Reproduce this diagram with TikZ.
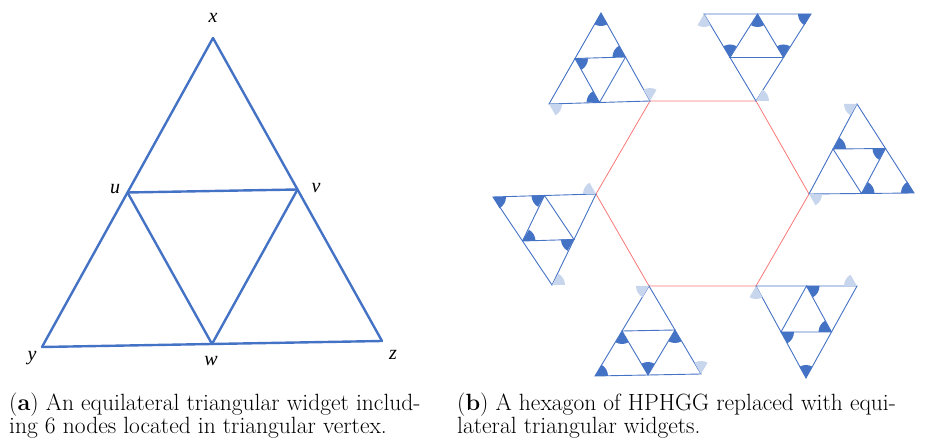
\documentclass[tikz,border=0pt]{standalone}
\usepackage{fontspec}
\newfontfamily\labelfont{Liberation Serif}
\usetikzlibrary{calc}
\definecolor{widgetblue}{RGB}{68,114,196}
\definecolor{hexred}{RGB}{250,120,120}

\tikzset{
  bigedge/.style={widgetblue, line width=2.4pt, line cap=round},
  smalledge/.style={widgetblue, line width=0.9pt},
  hexedge/.style={hexred, line width=0.8pt},
  darkmark/.style={fill=widgetblue},
  lightmark/.style={fill=widgetblue!30},
  vlabel/.style={font=\fontsize{20}{20}\selectfont\labelfont\itshape, inner sep=0pt},
  caption/.style={font=\fontsize{23.5}{22}\selectfont, align=left, anchor=north west, inner sep=0pt}
}

% triangular widget: name, three corners
\newcommand{\widget}[4]{%
  \coordinate (#1-1) at #2;
  \coordinate (#1-2) at #3;
  \coordinate (#1-3) at #4;
  \coordinate (#1-12) at ($(#1-1)!0.5!(#1-2)$);
  \coordinate (#1-13) at ($(#1-1)!0.5!(#1-3)$);
  \coordinate (#1-23) at ($(#1-2)!0.5!(#1-3)$);
  \draw[smalledge] (#1-1) -- (#1-2) -- (#1-3) -- cycle;
  \draw[smalledge] (#1-12) -- (#1-13) -- (#1-23) -- cycle;
}
% angle mark: style, vertex, from, to
\newcommand{\anglemark}[4]{%
  \fill[#1] (#2) -- ++(#3:13pt) arc[start angle=#3, end angle=#4, radius=13pt] -- cycle;
}

\begin{document}
\begin{tikzpicture}[x=1pt, y=1pt]
  \useasboundingbox (0,0) rectangle (926,439);

  % (a): the widget
  \coordinate (x) at (213,401);
  \coordinate (y) at (42,92);
  \coordinate (z) at (382,98);
  \coordinate (u) at ($(x)!0.5!(y)$);
  \coordinate (v) at ($(x)!0.5!(z)$);
  \coordinate (w) at ($(y)!0.5!(z)$);
  \draw[bigedge] (x) -- (y);
  \draw[bigedge] (x) -- (z);
  \draw[bigedge] (y) -- (z);
  \draw[bigedge] (u) -- (v);
  \draw[bigedge] (u) -- (w);
  \draw[bigedge] (v) -- (w);
  \node[vlabel] (lx) at (213,421) {x};
  \node[vlabel] (lu) at (115,250) {u};
  \node[vlabel] (lv) at (316,251) {v};
  \node[vlabel] (ly) at (32,81) {y};
  \node[vlabel] (lw) at (211,78) {w};
  \node[vlabel] (lz) at (393,84) {z};

  % (b): hexagon
  \coordinate (h1) at (650,338);
  \coordinate (h2) at (756,338);
  \coordinate (h3) at (809,245);
  \coordinate (h4) at (756,153);
  \coordinate (h5) at (649,153);
  \coordinate (h6) at (596,245);
  \draw[hexedge] (h1) -- (h2) -- (h3) -- (h4) -- (h5) -- (h6) -- cycle;

  % widgets at the corners
  \widget{A}{(601,426)}{(549,335)}{(h1)}
  \widget{B}{(704,425)}{(811,425)}{(h2)}
  \widget{C}{(857,335)}{(h3)}{(914,246)}
  \widget{D}{(493,242)}{(h6)}{(552,154)}
  \widget{E}{(h5)}{(595,63)}{(701,65)}
  \widget{F}{(h4)}{(857,153)}{(806,61)}

  % dark marks
  \anglemark{darkmark}{A-1}{-120}{-60}
  \anglemark{darkmark}{A-13}{120}{180}
  \anglemark{darkmark}{A-12}{-60}{0}
  \anglemark{darkmark}{A-23}{120}{180}
  \anglemark{darkmark}{B-12}{-120}{-60}
  \anglemark{darkmark}{B-2}{180}{240}
  \anglemark{darkmark}{B-13}{60}{120}
  \anglemark{darkmark}{B-23}{60}{120}
  \anglemark{darkmark}{C-12}{0}{60}
  \anglemark{darkmark}{C-13}{180}{240}
  \anglemark{darkmark}{C-23}{0}{60}
  \anglemark{darkmark}{C-3}{120}{180}
  \anglemark{darkmark}{D-1}{-60}{0}
  \anglemark{darkmark}{D-12}{180}{240}
  \anglemark{darkmark}{D-13}{0}{60}
  \anglemark{darkmark}{D-23}{180}{240}
  \anglemark{darkmark}{E-12}{240}{300}
  \anglemark{darkmark}{E-13}{240}{300}
  \anglemark{darkmark}{E-23}{60}{120}
  \anglemark{darkmark}{E-2}{0}{60}
  \anglemark{darkmark}{F-12}{-60}{0}
  \anglemark{darkmark}{F-23}{120}{180}
  \anglemark{darkmark}{F-13}{-60}{0}
  \anglemark{darkmark}{F-3}{60}{120}

  % light marks
  \anglemark{lightmark}{A-3}{60}{120}
  \anglemark{lightmark}{A-2}{-60}{0}
  \anglemark{lightmark}{B-1}{240}{300}
  \anglemark{lightmark}{B-3}{0}{60}
  \anglemark{lightmark}{C-1}{180}{240}
  \anglemark{lightmark}{C-2}{-60}{0}
  \anglemark{lightmark}{D-2}{120}{180}
  \anglemark{lightmark}{D-3}{0}{60}
  \anglemark{lightmark}{E-1}{180}{240}
  \anglemark{lightmark}{E-3}{60}{120}
  \anglemark{lightmark}{F-1}{240}{300}
  \anglemark{lightmark}{F-2}{120}{180}

  % captions
  \node[caption] (capa) at (9,46) {(\textbf{a}) An equilateral triangular widget includ-\\ing 6 nodes located in triangular vertex.};
  \node[caption] (capb) at (457,46) {(\textbf{b}) A hexagon of HPHGG replaced with equi-\\lateral triangular widgets.};
\end{tikzpicture}
\end{document}
